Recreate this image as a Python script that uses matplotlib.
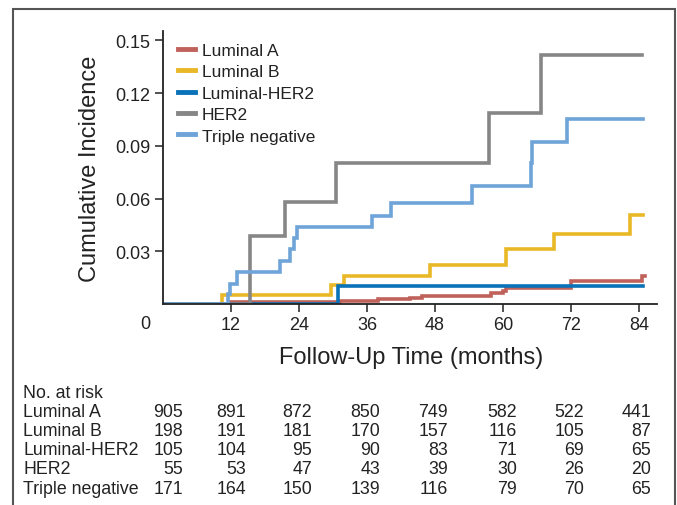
import matplotlib
matplotlib.use("Agg")
import matplotlib.pyplot as plt
from matplotlib import font_manager
from matplotlib.patches import Rectangle

avail = {f.name for f in font_manager.fontManager.ttflist}
FAM = [f for f in ["Liberation Sans Narrow", "Liberation Sans", "DejaVu Sans"] if f in avail]
plt.rcParams['font.family'] = FAM

# ---- data ----
series_names = ["Luminal A", "Luminal B", "Luminal-HER2", "HER2", "Triple negative"]
series_colors = ["#C0625B", "#E9B826", "#0A72B8", "#868686", "#6EA4D7"]

lumA_t = [0, 11.8, 31.2, 38.0, 43.6, 45.7, 57.9, 60.1, 60.6, 72.0, 84.6, 85.0]
lumA_v = [0, 0.0012, 0.0018, 0.0027, 0.0036, 0.0048, 0.0063, 0.0076, 0.0090, 0.0133, 0.0158, 0.0158]

lumB_t = [0, 10.4, 29.6, 31.9, 47.1, 60.5, 69.1, 82.4, 84.8]
lumB_v = [0, 0.0051, 0.0108, 0.0161, 0.0222, 0.0313, 0.0399, 0.0507, 0.0507]

lumH_t = [0, 30.9, 84.8]
lumH_v = [0, 0.0104, 0.0104]

her2_t = [0, 15.4, 21.5, 30.5, 57.6, 66.8, 84.5]
her2_v = [0, 0.0385, 0.0583, 0.0803, 0.1086, 0.1418, 0.1418]

tn_t = [0, 11.5, 11.9, 13.0, 20.6, 22.4, 23.1, 23.6, 36.9, 40.3, 54.5, 64.9, 65.1, 71.4, 84.8]
tn_v = [0, 0.0057, 0.0114, 0.018, 0.0247, 0.0313, 0.0374, 0.0437, 0.0503, 0.0575, 0.0674, 0.080, 0.0924, 0.1053, 0.1053]

x_ticks = [12, 24, 36, 48, 60, 72, 84]
y_ticks = [0.03, 0.06, 0.09, 0.12, 0.15]
y_ticklabels = ["0.03", "0.06", "0.09", "0.12", "0.15"]

risk_header = "No. at risk"
risk_rows = ["Luminal A", "Luminal B", "Luminal-HER2", "HER2", "Triple negative"]
risk_lumA = [905, 891, 872, 850, 749, 582, 522, 441]
risk_lumB = [198, 191, 181, 170, 157, 116, 105, 87]
risk_lumH = [105, 104, 95, 90, 83, 71, 69, 65]
risk_her2 = [55, 53, 47, 43, 39, 30, 26, 20]
risk_tn = [171, 164, 150, 139, 116, 79, 70, 65]

# ---- figure ----
W, H = 677, 506
fig = plt.figure(figsize=(W / 100, H / 100), dpi=100)
ax = fig.add_axes([163 / W, 1 - 305 / H, (657 - 163) / W, (305 - 32) / H])

series = [(lumA_t, lumA_v), (lumB_t, lumB_v), (lumH_t, lumH_v), (her2_t, her2_v), (tn_t, tn_v)]
for (t, v), name, col in zip(series, series_names, series_colors):
    ax.step(t, v, where="post", color=col, lw=2.6, label=name, solid_joinstyle="miter")

ax.set_xlim(0, 87.2)
ax.set_ylim(0, 0.1554)
ax.set_xticks(x_ticks)
ax.set_xticklabels([str(x) for x in x_ticks])
ax.set_yticks(y_ticks)
ax.set_yticklabels(y_ticklabels)
for s in ["top", "right"]:
    ax.spines[s].set_visible(False)
for s in ["left", "bottom"]:
    ax.spines[s].set_linewidth(1.3)
    ax.spines[s].set_color("#222222")
ax.tick_params(axis="both", direction="out", length=6, width=1.1, color="#222222",
               labelsize=13, labelcolor="#222222", pad=3)

ax.text(-0.035, -0.07, "0", transform=ax.transAxes, ha="center", va="center",
        fontsize=13, color="#222222")

ax.set_ylabel("Cumulative Incidence", fontsize=17, color="#222222", labelpad=10)
fig.text(411 / W, 1 - 358 / H, "Follow-Up Time (months)", ha="center", va="center",
         fontsize=17, color="#222222")

leg = ax.legend(loc="upper left", bbox_to_anchor=(0.01, 0.995), frameon=False,
                fontsize=12.5, handlelength=0.95, handletextpad=0.4, labelspacing=0.36,
                borderaxespad=0.2)
for txt in leg.get_texts():
    txt.set_color("#222222")
for ln in leg.get_lines():
    ln.set_linewidth(3.5)

# risk table
TFS = 12.8
fig.text(23 / W, 1 - 394 / H, risk_header, ha="left", va="center", fontsize=TFS, color="#222222")
row_y = [413, 432, 451, 470, 490]
col_x = [183, 246, 312, 380, 448, 517, 584, 651]
for name, vals, yy in zip(risk_rows, [risk_lumA, risk_lumB, risk_lumH, risk_her2, risk_tn], row_y):
    fig.text(23 / W, 1 - yy / H, name, ha="left", va="center", fontsize=TFS, color="#222222")
    for v, xx in zip(vals, col_x):
        fig.text(xx / W, 1 - yy / H, str(v), ha="right", va="center", fontsize=TFS, color="#222222")

# outer frame
fig.patches.append(Rectangle((13 / W, -0.05), (675 - 13) / W, 1 - 10 / H + 0.05,
                             transform=fig.transFigure, fill=False, lw=1.5,
                             edgecolor="#555555"))

fig.savefig("out.png", dpi=100)
